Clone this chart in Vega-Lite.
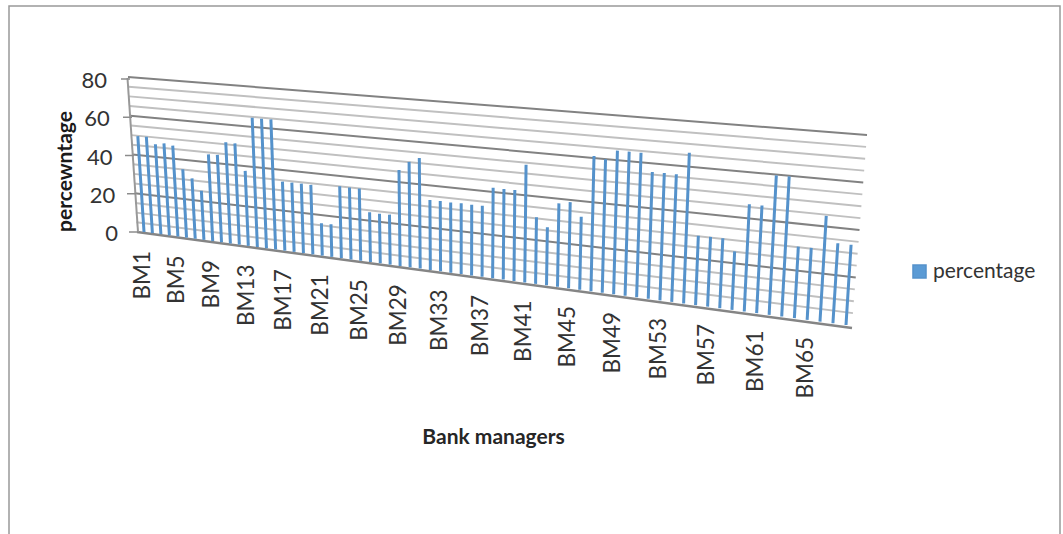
{"$schema":"https://vega.github.io/schema/vega-lite/v6.json","autosize":{"type":"none"},"padding":{"left":9,"top":6,"right":3,"bottom":0},"width":1051,"height":530,"background":"#ffffff","config":{"view":{"stroke":"#999999","strokeWidth":1.5}},
"datasets":{"bars":[{"manager":"BM1","percentage":49.5},{"manager":"BM2","percentage":49.6},{"manager":"BM3","percentage":46.2},{"manager":"BM4","percentage":47.1},{"manager":"BM5","percentage":46.4},{"manager":"BM6","percentage":34.8},{"manager":"BM7","percentage":30.7},{"manager":"BM8","percentage":24.9},{"manager":"BM9","percentage":43.8},{"manager":"BM10","percentage":44.0},{"manager":"BM11","percentage":50.8},{"manager":"BM12","percentage":50.7},{"manager":"BM13","percentage":37.4},{"manager":"BM14","percentage":64.4},{"manager":"BM15","percentage":64.3},{"manager":"BM16","percentage":64.4},{"manager":"BM17","percentage":34.1},{"manager":"BM18","percentage":34.1},{"manager":"BM19","percentage":34.1},{"manager":"BM20","percentage":34.0},{"manager":"BM21","percentage":15.8},{"manager":"BM22","percentage":15.9},{"manager":"BM23","percentage":34.9},{"manager":"BM24","percentage":34.8},{"manager":"BM25","percentage":34.8},{"manager":"BM26","percentage":23.9},{"manager":"BM27","percentage":23.8},{"manager":"BM28","percentage":23.9},{"manager":"BM29","percentage":45.7},{"manager":"BM30","percentage":50.1},{"manager":"BM31","percentage":52.4},{"manager":"BM32","percentage":33.0},{"manager":"BM33","percentage":33.1},{"manager":"BM34","percentage":33.0},{"manager":"BM35","percentage":33.1},{"manager":"BM36","percentage":33.0},{"manager":"BM37","percentage":33.1},{"manager":"BM38","percentage":42.0},{"manager":"BM39","percentage":41.9},{"manager":"BM40","percentage":42.0},{"manager":"BM41","percentage":54.1},{"manager":"BM42","percentage":30.5},{"manager":"BM43","percentage":26.5},{"manager":"BM44","percentage":38.0},{"manager":"BM45","percentage":39.1},{"manager":"BM46","percentage":33.0},{"manager":"BM47","percentage":61.0},{"manager":"BM48","percentage":60.0},{"manager":"BM49","percentage":64.4},{"manager":"BM50","percentage":64.4},{"manager":"BM51","percentage":64.4},{"manager":"BM52","percentage":56.3},{"manager":"BM53","percentage":56.4},{"manager":"BM54","percentage":56.3},{"manager":"BM55","percentage":66.3},{"manager":"BM56","percentage":30.4},{"manager":"BM57","percentage":30.5},{"manager":"BM58","percentage":30.5},{"manager":"BM59","percentage":25.4},{"manager":"BM60","percentage":46.4},{"manager":"BM61","percentage":46.4},{"manager":"BM62","percentage":59.9},{"manager":"BM63","percentage":60.0},{"manager":"BM64","percentage":30.5},{"manager":"BM65","percentage":30.6},{"manager":"BM66","percentage":44.8},{"manager":"BM67","percentage":33.8},{"manager":"BM68","percentage":33.8}],
"grid":[{"v":0},{"v":5},{"v":10},{"v":15},{"v":20},{"v":25},{"v":30},{"v":35},{"v":40},{"v":45},{"v":50},{"v":55},{"v":60},{"v":65},{"v":70},{"v":75},{"v":80}]},
"layer":[
{"data":{"name":"grid"},"transform":[{"filter":"datum.v%20!=0"},{"calculate":"137-9*datum.v/80","as":"xl"},{"calculate":"232-155*datum.v/80","as":"yl"},{"calculate":"852+15*datum.v/80","as":"xr"},{"calculate":"325-190*datum.v/80","as":"yr"}],"mark":{"type":"rule","stroke":"#c0c0c0","strokeWidth":2},"encoding":{"x":{"field":"xl","type":"quantitative","scale":{"domain":[9,1060],"nice":false,"zero":false},"axis":{"title":"Bank managers","titleFont":"Lato","titleFontSize":21,"titleFontWeight":"bold","titleColor":"#262626","titleX":484,"titleY":-99,"titleBaseline":"middle","labels":false,"ticks":false,"domain":false,"grid":false}},"y":{"field":"yl","type":"quantitative","scale":{"domain":[536,6],"nice":false,"zero":false},"axis":{"title":"percewntage","titleFont":"Lato","titleFontSize":21,"titleFontWeight":"bold","titleColor":"#1a1a1a","titleX":56,"titleY":165,"titleAngle":270,"titleBaseline":"middle","labels":false,"ticks":false,"domain":false,"grid":false}},"x2":{"field":"xr"},"y2":{"field":"yr"}}},
{"data":{"name":"grid"},"transform":[{"filter":"datum.v%20==0&&datum.v>0"},{"calculate":"137-9*datum.v/80","as":"xl"},{"calculate":"232-155*datum.v/80","as":"yl"},{"calculate":"852+15*datum.v/80","as":"xr"},{"calculate":"325-190*datum.v/80","as":"yr"}],"mark":{"type":"rule","stroke":"#828282","strokeWidth":2},"encoding":{"x":{"field":"xl","type":"quantitative"},"y":{"field":"yl","type":"quantitative"},"x2":{"field":"xr"},"y2":{"field":"yr"}}},
{"data":{"name":"grid"},"transform":[{"filter":"datum.v==0"},{"calculate":"137","as":"xl"},{"calculate":"232","as":"yl"},{"calculate":"852","as":"xr"},{"calculate":"328","as":"yr"}],"mark":{"type":"rule","stroke":"#858585","strokeWidth":2.5},"encoding":{"x":{"field":"xl","type":"quantitative"},"y":{"field":"yl","type":"quantitative"},"x2":{"field":"xr"},"y2":{"field":"yr"}}},
{"data":{"name":"grid"},"transform":[{"filter":"datum.v==0"},{"calculate":"138","as":"xl"},{"calculate":"232","as":"yl"},{"calculate":"127.5","as":"xr"},{"calculate":"78","as":"yr"}],"mark":{"type":"rule","stroke":"#999999","strokeWidth":2},"encoding":{"x":{"field":"xl","type":"quantitative"},"y":{"field":"yl","type":"quantitative"},"x2":{"field":"xr"},"y2":{"field":"yr"}}},
{"data":{"name":"grid"},"transform":[{"filter":"datum.v%20==0"},{"calculate":"138-8*datum.v/80","as":"xl"},{"calculate":"232-153*datum.v/80","as":"yl"},{"calculate":"datum.xl-9","as":"xr"}],"mark":{"type":"rule","stroke":"#8c8c8c","strokeWidth":1.5},"encoding":{"x":{"field":"xl","type":"quantitative"},"y":{"field":"yl","type":"quantitative"},"x2":{"field":"xr"}}},
{"data":{"name":"grid"},"transform":[{"filter":"datum.v%20==0"},{"calculate":"118-11*datum.v/80","as":"xl"},{"calculate":"234-153*datum.v/80","as":"yl"}],"mark":{"type":"text","font":"Lato","fontSize":22,"align":"right","baseline":"middle","color":"#333333"},"encoding":{"x":{"field":"xl","type":"quantitative"},"y":{"field":"yl","type":"quantitative"},"text":{"field":"v","type":"quantitative"}}},
{"data":{"name":"bars"},"transform":[{"calculate":"toNumber(substring(datum.manager,2))-1","as":"k"},{"calculate":"datum.k/(83.75-0.25*datum.k)","as":"f"},{"calculate":"144+702*datum.f","as":"xb"},{"calculate":"232+93*datum.f","as":"yb"},{"calculate":"datum.xb+(-10+22*datum.f)*datum.percentage/80","as":"xt"},{"calculate":"datum.yb-(155+35*datum.f)*datum.percentage/80","as":"yt"}],"mark":{"type":"rule","strokeWidth":3},"encoding":{"x":{"field":"xb","type":"quantitative"},"y":{"field":"yb","type":"quantitative"},"x2":{"field":"xt"},"y2":{"field":"yt"},"color":{"datum":"percentage","scale":{"domain":["percentage"],"range":["#5592cb"]},"legend":{"title":null,"orient":"none","legendX":900,"legendY":255,"labelFont":"Lato","labelFontSize":21,"labelColor":"#333333","labelOffset":3,"symbolType":"square","symbolSize":170,"symbolFillColor":"#5b9bd5","symbolStrokeColor":"#5b9bd5"}}}},
{"data":{"name":"bars"},"transform":[{"calculate":"toNumber(substring(datum.manager,2))-1","as":"k"},{"filter":"datum.k%4==0"},{"calculate":"datum.k/(83.75-0.25*datum.k)","as":"f"},{"calculate":"143+702*datum.f","as":"xb"},{"calculate":"251+91*datum.f","as":"yb"}],"mark":{"type":"text","font":"Lato","fontSize":22.5,"angle":270,"align":"right","baseline":"middle","color":"#333333"},"encoding":{"x":{"field":"xb","type":"quantitative"},"y":{"field":"yb","type":"quantitative"},"text":{"field":"manager"}}}
]}
